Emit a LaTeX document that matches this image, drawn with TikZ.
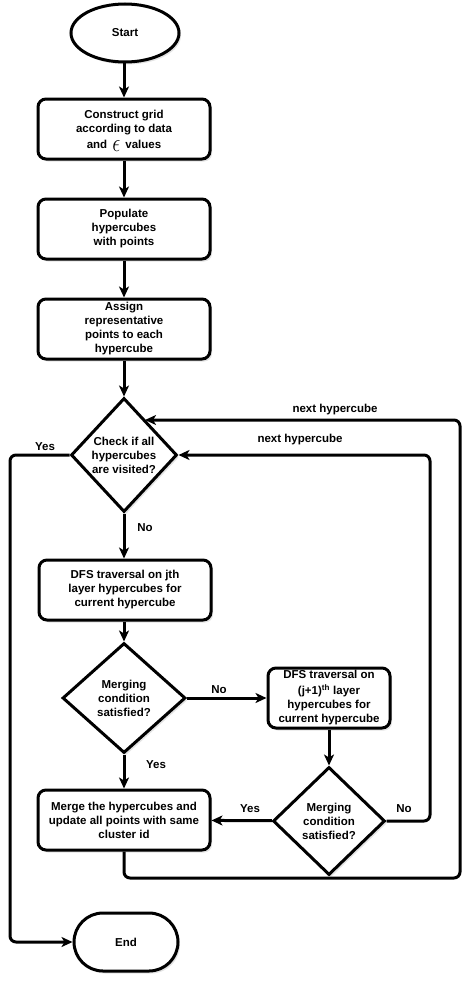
\documentclass[tikz,border=0pt]{standalone}
\usepackage{fontspec}
\setmainfont{Liberation Sans}
\usetikzlibrary{shapes.geometric,arrows.meta,shadows,calc}
\begin{document}
\begin{tikzpicture}[x=1pt,y=-1pt,
  every node/.style={font=\fontsize{11.5}{14}\selectfont\bfseries},
  shad/.style={drop shadow={opacity=0.22,shadow xshift=2pt,shadow yshift=-2.5pt}},
  procbox/.style={draw,line width=3pt,rounded corners=8pt,fill=white,shad,
     minimum width=172pt,minimum height=60pt,inner sep=0pt,align=center},
  termin/.style={draw,line width=3pt,rounded corners=29pt,fill=white,shad,
     minimum width=104pt,minimum height=58pt,inner sep=0pt},
  startsh/.style={draw,ellipse,line width=3pt,fill=white,shad,
     minimum width=108pt,minimum height=58pt,inner sep=0pt},
  decis/.style={draw,diamond,line width=3pt,fill=white,shad,inner sep=0pt,
     align=center,aspect=1},
  conn/.style={line width=3pt,rounded corners=6pt,-{Stealth[length=11pt,width=10pt,inset=3pt]}},
  lbl/.style={inner sep=1pt}
]
\useasboundingbox (0,0) rectangle (476,982);

\node[startsh] (start) at (125,33) {Start};
\node[procbox] (b1) at (124,129) {Construct grid\\according to data\\[2pt]and \,\raisebox{-3pt}[0pt][0pt]{\resizebox{8pt}{11pt}{$\epsilon$}}\, values};
\node[procbox] (b2) at (124,229) {Populate\\hypercubes\\with points};
\node[procbox] (b3) at (124,329) {Assign\\representative\\points to each\\hypercube};
\node[decis,minimum width=106pt,minimum height=114pt] (d1) at (124,455) {Check if all\\hypercubes\\are visited?};
\node[procbox] (b4) at (125,590) {DFS traversal on jth\\layer hypercubes for\\current hypercube};
\node[decis,minimum width=123pt,minimum height=110pt] (d2) at (124,698) {Merging\\condition\\satisfied?};
\node[procbox,minimum width=122pt] (b5) at (329,698) {DFS traversal on\\[2pt](j+1)\textsuperscript{th} layer\\hypercubes for\\current hypercube};
\node[decis,minimum width=112pt,minimum height=108pt] (d3) at (329,821) {Merging\\condition\\satisfied?};
\node[procbox] (b6) at (124,820) {Merge the hypercubes and\\update all points with same\\cluster id};
\node[termin] (end) at (126,942) {End};

\coordinate (yl) at (10,455);
\coordinate (yb) at (10,942);
\coordinate (nr) at (430,821);
\coordinate (nt) at (430,455);
\coordinate (mb) at (124,878);
\coordinate (mr) at (460,878);
\coordinate (mt) at (460,420);
\coordinate (hit) at ($(d1.north)!0.386!(d1.east)$);

\draw[conn] (start.south -| b1) -- (b1);
\draw[conn] (b1) -- (b2);
\draw[conn] (b2) -- (b3);
\draw[conn] (b3) -- (d1);
\draw[conn] (d1) -- (d1 |- b4.north);
\draw[conn] (d1 |- b4.south) -- (d2);
\draw[conn] (d2) -- (b6);
\draw[conn] (d2) -- (b5);
\draw[conn] (b5) -- (d3);
\draw[conn] (d3) -- (b6);
\draw[conn] (d1.west) -- (yl) -- (yb) -- (end.west);
\draw[conn] (d3.east) -- (nr) -- (nt) -- (d1.east);
\draw[conn] (b6.south) -- (mb) -- (mr) -- (mt) -- (mt -| hit);

\node[lbl] at (45,447) {Yes};
\node[lbl] at (145,528) {No};
\node[lbl] at (219,690) {No};
\node[lbl] at (156,765) {Yes};
\node[lbl] at (250,809) {Yes};
\node[lbl] at (404,809) {No};
\node[lbl] at (300,440) {next hypercube};
\node[lbl] at (335,410) {next hypercube};
\end{tikzpicture}
\end{document}
